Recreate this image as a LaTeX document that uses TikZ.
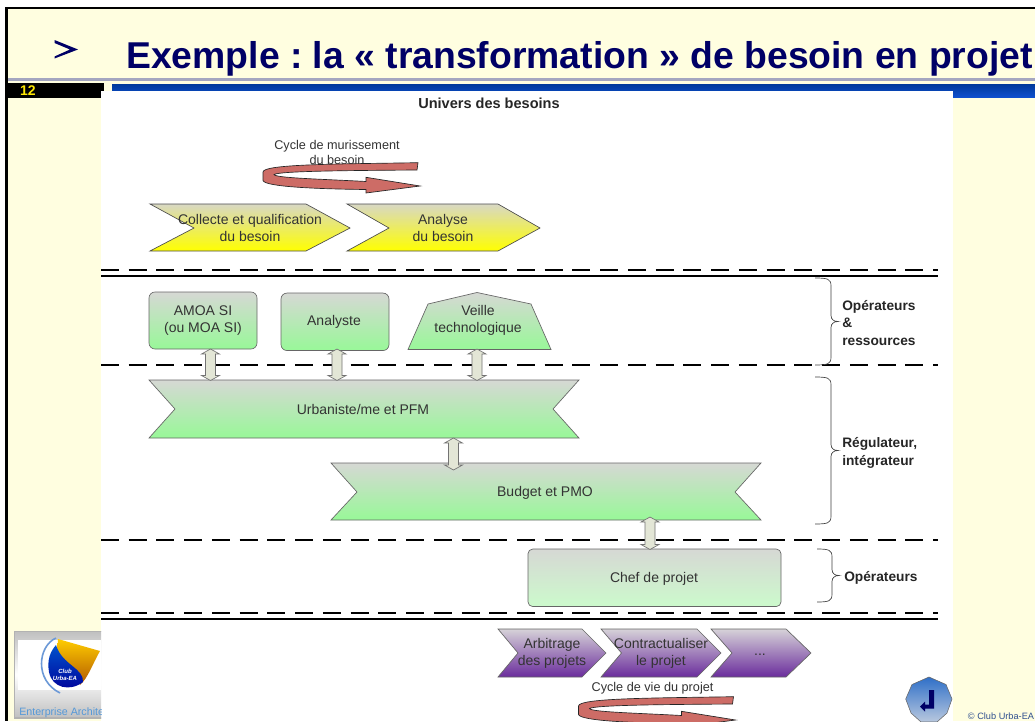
\documentclass[tikz,border=0pt]{standalone}
\usepackage{fontspec}
\setmainfont{Liberation Sans}
\usetikzlibrary{calc}
\definecolor{cream}{HTML}{FFFEE0}
\definecolor{navy}{HTML}{000066}
\definecolor{txt}{HTML}{333333}
\definecolor{swirlc}{HTML}{CD6C66}
\definecolor{yelT}{HTML}{D8D8C4}
\definecolor{HTML1}{HTML}{D6D8D4}
\definecolor{HTML2}{HTML}{98F898}
\definecolor{HTML3}{HTML}{CCFACC}
\definecolor{purT}{HTML}{D6D2D8}
\definecolor{purB}{HTML}{6A2C9C}
\definecolor{arrf}{HTML}{E3E6D6}
\definecolor{barT}{HTML}{003A9C}
\definecolor{barB}{HTML}{0F50D0}
\definecolor{btnT}{HTML}{2F6FC8}
\definecolor{btnB}{HTML}{B8C8DE}
\definecolor{copyc}{HTML}{2F4F8F}
\definecolor{rulec}{HTML}{A4A6C0}
\tikzset{
  x=0.75pt,y=-0.75pt,
  lab/.style={font=\fontsize{10.5pt}{12.6pt}\selectfont,text=txt,align=center,inner sep=0pt},
  side/.style={font=\fontsize{10.3pt}{13pt}\selectfont\bfseries,text=black!85,align=left,inner sep=0pt,anchor=west},
  yel/.style={draw=black!70,line width=0.5pt,top color=yelT,bottom color=yellow},
  grn/.style={draw=black!60,line width=0.5pt,top color=HTML1,bottom color=HTML2},
  pur/.style={draw=black!60,line width=0.5pt,top color=purT,bottom color=purB},
  pale/.style={draw=black!60,line width=0.5pt,top color=HTML1,bottom color=HTML3},
  sep/.style={line width=1.5pt,black,dash pattern=on 13.5pt off 7.3pt},
  solidsep/.style={line width=1.5pt,black},
  bigarr/.style={draw=black!55,line width=0.5pt,fill=arrf},
  brace/.style={draw=black!75,line width=0.5pt},
  swirl/.style={draw=black!85,line width=0.5pt,fill=swirlc},
}
\newcommand{\dblarrow}[2]{%
  \path[bigarr] let \p1=(#1),\p2=(#2) in
    (\x1,\y1) -- (\x1+6.75pt,\y1-3.75pt) -- (\x1+3.75pt,\y1-3.75pt)
    -- (\x1+3.75pt,\y2+3.75pt) -- (\x1+6.75pt,\y2+3.75pt) -- (\x1,\y2)
    -- (\x1-6.75pt,\y2+3.75pt) -- (\x1-3.75pt,\y2+3.75pt)
    -- (\x1-3.75pt,\y1-3.75pt) -- (\x1-6.75pt,\y1-3.75pt) -- cycle;}
\newcommand{\swirlshape}{%
  \path[swirl] (418,162.7) .. controls (340,164) and (263,164) .. (263,172)
    -- (263,180.5) .. controls (265,187) and (320,189) .. (366,189.5)
    -- (366,193) -- (420,186) -- (366,177.3) -- (366,181.5)
    .. controls (320,179) and (275,178) .. (274,174.5)
    .. controls (280,171) and (350,170.5) .. (417,170) -- cycle;}
\newcommand{\bracepath}[5]{%
  \path[brace]
   (#1,#4) .. controls (#2-3,#4) and (#2,#4+1) .. (#2,#4+8)
   -- (#2,{(#4+#5)/2-6}) .. controls (#2,{(#4+#5)/2-2}) and (#2+3,{(#4+#5)/2}) .. (#3,{(#4+#5)/2})
   .. controls (#2+3,{(#4+#5)/2}) and (#2,{(#4+#5)/2+2}) .. (#2,{(#4+#5)/2+6})
   -- (#2,#5-8) .. controls (#2,#5-1) and (#2-3,#5) .. (#1,#5);}
\begin{document}
\begin{tikzpicture}
\frenchspacing
\useasboundingbox (0,0) rectangle (1035,721);
% slide background
\fill[white] (0,0) rectangle (1035,721);
\fill[cream] (6,8) rectangle (1035,721);
\fill[black] (5.3,7) rectangle (1035,9);
\fill[black] (5.3,7) rectangle (8,721);
\fill[rulec] (8,78) rectangle (1035,80.5);
\path[top color=barT,bottom color=barB] (112,84.5) rectangle (1035,97.5);
\fill[black] (8,83) rectangle (104,91);
\fill[black] (8,91) rectangle (101,98);
\fill[white] (101,91) rectangle (953,721);
% title
\path[fill=navy] (54.5,40) -- (78,49.5) -- (54.5,58.5) -- (54.5,56.5) -- (70,49.5) -- (54.5,43) -- cycle;
\node[anchor=west,inner sep=0pt,text=navy] (title) at (126,58.5)
  {\fontsize{28pt}{32pt}\selectfont\bfseries Exemple : la « transformation » de besoin en projet};
\node[inner sep=0pt,text=yellow!90!orange,draw=none] (num) at (28,90.5) {\fontsize{10.5pt}{11pt}\selectfont\bfseries 12};
% separators
\draw[sep] (101,270) -- (938,270);
\draw[solidsep] (101,276) -- (938,276);
\draw[sep] (101,365) -- (938,365);
\draw[sep] (101,540) -- (938,540);
\draw[sep] (101,613) -- (938,613);
\draw[solidsep] (101,618.5) -- (938,618.5);
% header texts
\node[inner sep=0pt,font=\fontsize{10.9pt}{12pt}\selectfont\bfseries,text=black!85] (univers) at (489,103) {Univers des besoins};
\node[lab,font=\fontsize{9.5pt}{11.3pt}\selectfont] (cyc1) at (337,152.5) {Cycle de murissement\\du besoin};
\swirlshape
% yellow chevrons
\path[yel] (150,204) -- (306,204) -- (350,228) -- (306,251) -- (150,251) -- (194,228) -- cycle;
\node[lab] (collecte) at (250,228) {Collecte et qualification\\du besoin};
\path[yel] (347,204) -- (498,204) -- (540,228) -- (498,251) -- (347,251) -- (389,228) -- cycle;
\node[lab] (analyse) at (443,228) {Analyse\\du besoin};
% operators
\node[grn,rounded corners=4.5pt,minimum width=81pt,minimum height=42.75pt,inner sep=0pt] (amoa) at (203,320.5) {};
\node[lab] (amoat) at (203,320.5) {AMOA SI\\(ou MOA SI)};
\node[grn,rounded corners=4.5pt,minimum width=81pt,minimum height=43.1pt,inner sep=0pt] (analyste) at (335,321.8) {};
\node[lab] (analystet) at (334,321.5) {Analyste};
\path[grn] (408,349.5) -- (428,304) -- (477,292.5) -- (531,304) -- (551,349.5) -- cycle;
\node[lab] (veille) at (478,320.5) {Veille\\technologique};
\path[grn] (149,380) -- (579,380) -- (553,409) -- (579,438) -- (149,438) -- (175,409) -- cycle;
\node[lab] (urba) at (363,409.5) {Urbaniste/me et PFM};
\path[grn] (331,463) -- (761,463) -- (735,492) -- (761,520) -- (331,520) -- (357,492) -- cycle;
\node[lab] (budget) at (545,492.5) {Budget et PMO};
\node[pale,rounded corners=3.5pt,minimum width=189.75pt,minimum height=43.1pt,inner sep=0pt] (chef) at (654.5,577.8) {};
\node[lab] (cheft) at (654,578.5) {Chef de projet};
% double arrows
\coordinate (a1t) at (210.5,349); \coordinate (a1b) at (210.5,380.5);
\coordinate (a2t) at (337,349);   \coordinate (a2b) at (337,380.5);
\coordinate (a3t) at (477,349);   \coordinate (a3b) at (477,380.5);
\coordinate (a4t) at (453.5,438); \coordinate (a4b) at (453.5,470);
\coordinate (a5t) at (650,517);   \coordinate (a5b) at (650,549.5);
\dblarrow{a1t}{a1b}
\dblarrow{a2t}{a2b}
\dblarrow{a3t}{a3b}
\dblarrow{a4t}{a4b}
\dblarrow{a5t}{a5b}
% braces
\bracepath{815}{831}{838}{278}{365}
\bracepath{815}{831}{838}{377}{524}
\bracepath{817}{832}{839}{549}{602}
\node[side] (s1) at (842,323) {Opérateurs\\\&\\ressources};
\node[side] (s2) at (842,453) {Régulateur,\\intégrateur};
\node[side] (s3) at (844,578) {Opérateurs};
% purple chevrons
\path[pur] (498,629) -- (582,629) -- (606,653) -- (582,677) -- (498,677) -- (518,653) -- cycle;
\node[lab] (arb) at (552,653.5) {Arbitrage\\des projets};
\path[pur] (601,629) -- (697,629) -- (721,653) -- (697,677) -- (601,677) -- (621.5,653) -- cycle;
\node[lab] (contr) at (661,653.5) {Contractualiser\\le projet};
\path[pur] (711,629) -- (786,629) -- (811,653) -- (786,677) -- (711,677) -- (732,653) -- cycle;
\node[lab] (dots) at (760,655) {...};
\node[lab,font=\fontsize{9.5pt}{11.3pt}\selectfont] (cyc2) at (652.5,688) {Cycle de vie du projet};
\begin{scope}[shift={(315.5,534)}]
\swirlshape
\end{scope}
% nav button
\path[draw=black!60,line width=0.4pt,top color=btnT,bottom color=btnB]
  (929,677) -- (946,684.5) -- (952,699) -- (947,713) -- (937,722) -- (921,722) -- (911,713) -- (905.7,699) -- (912,684.5) -- cycle;
\path[fill=navy] (929,690) -- (934,690) -- (934,708.5) -- (925,708.5) -- (925,711.7) -- (920,706.7) -- (925,701.7) -- (925,704.5) -- (929,704.5) -- cycle;
\node[anchor=west,inner sep=0pt,text=copyc,font=\fontsize{6.9pt}{8pt}\selectfont] (copy) at (967.7,716.5) {© Club Urba-EA};
% logo
\begin{scope}
\path[clip] (14,631) rectangle (101,718);
\path[draw=black!30,line width=1pt,top color=black!25,bottom color=black!25,middle color=white] (14,631) rectangle (110,718);
\fill[white] (18,640) rectangle (101,690);
\path[top color=yellow!60!orange,bottom color=orange!70!black] (58,639) -- (100,651) .. controls (92,665) and (88,678) .. (80,685) .. controls (80,670) and (62,665) .. (57,655) -- cycle;
\path[top color=blue!60!cyan!80!black,bottom color=blue!60!black] (56,645) .. controls (62,665) and (84,668) .. (83,682) .. controls (70,692) and (52,688) .. (49,672) .. controls (47,660) and (50,652) .. (56,645) -- cycle;
\draw[cyan!50!blue!60,line width=1.2pt] (56,638) .. controls (38,646) and (34,680) .. (60,693);
\node[inner sep=0pt,text=white,align=center,font=\fontsize{4.5pt}{5.2pt}\selectfont\bfseries\itshape] (club) at (65,675) {Club\\Urba-EA};
\node[anchor=west,inner sep=0pt,text=cyan!60!blue!70,font=\fontsize{8pt}{9pt}\selectfont] (ea) at (19,713) {Enterprise Architect};
\end{scope}
\end{tikzpicture}
\end{document}
